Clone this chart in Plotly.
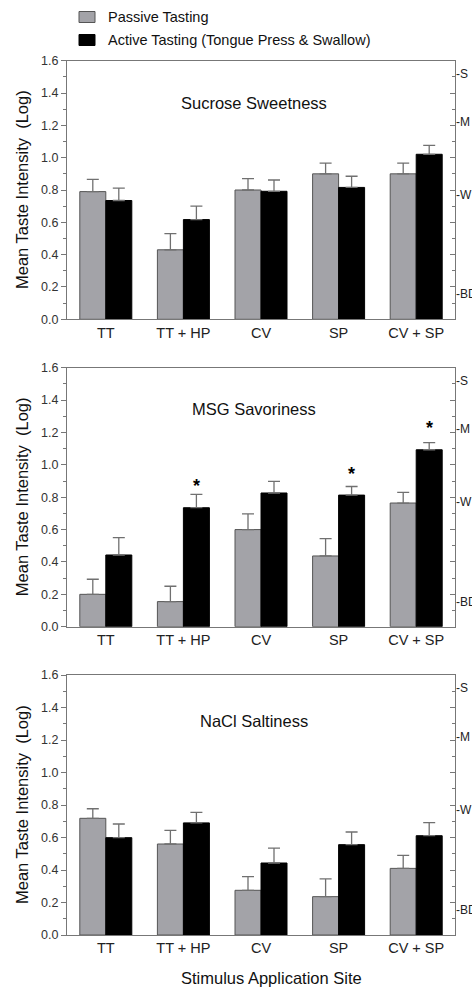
import plotly.graph_objects as go

categories = ["TT", "TT + HP", "CV", "SP", "CV + SP"]

sucrose_passive = [0.79, 0.43, 0.80, 0.90, 0.90]
sucrose_passive_err = [0.076, 0.10, 0.07, 0.066, 0.066]
sucrose_active = [0.735, 0.617, 0.792, 0.816, 1.021]
sucrose_active_err = [0.077, 0.083, 0.07, 0.069, 0.055]

msg_passive = [0.20, 0.155, 0.60, 0.437, 0.764]
msg_passive_err = [0.093, 0.095, 0.097, 0.107, 0.066]
msg_active = [0.443, 0.735, 0.826, 0.813, 1.093]
msg_active_err = [0.107, 0.083, 0.072, 0.053, 0.044]
msg_star_y = [None, 0.88, None, 0.957, 1.24]

nacl_passive = [0.718, 0.560, 0.275, 0.236, 0.410]
nacl_passive_err = [0.059, 0.084, 0.084, 0.109, 0.080]
nacl_active = [0.599, 0.690, 0.443, 0.556, 0.611]
nacl_active_err = [0.084, 0.065, 0.092, 0.078, 0.080]

series_names = ["Passive Tasting", "Active Tasting (Tongue Press & Swallow)"]
panel_titles = ["Sucrose Sweetness", "MSG Savoriness", "NaCl Saltiness"]
panel_title_y = [1.34, 1.343, 1.32]
scale_labels = ["-S", "-M", "-W", "-BD"]
scale_values = [1.52, 1.22, 0.77, 0.155]

FONT = "Liberation Sans, Arial, sans-serif"
GREY = "#a3a3a8"
AXC = "#777777"
W, H = 472, 990
L, R = 67, 17
PW = W - L - R

panels = [
    (sucrose_passive, sucrose_passive_err, sucrose_active, sucrose_active_err, None),
    (msg_passive, msg_passive_err, msg_active, msg_active_err, msg_star_y),
    (nacl_passive, nacl_passive_err, nacl_active, nacl_active_err, None),
]
pix = [(60.7, 319.3), (367.7, 626.7), (675.0, 935.0)]

fig = go.Figure()
annotations = []
shapes = []
for i, (pp, pe, ap, ae, stars) in enumerate(panels):
    n = i + 1
    xa = "x" if n == 1 else f"x{n}"
    ya = "y" if n == 1 else f"y{n}"
    yr = f"y{n + 3}"
    fig.add_trace(go.Bar(
        x=categories, y=pp, name=series_names[0], xaxis=xa, yaxis=ya,
        marker=dict(color=GREY, line=dict(color="#555555", width=1)),
        error_y=dict(type="data", array=pe, arrayminus=[0] * 5, symmetric=False,
                     color="#707070", thickness=1.3, width=6),
        showlegend=False))
    fig.add_trace(go.Bar(
        x=categories, y=ap, name=series_names[1], xaxis=xa, yaxis=ya,
        marker=dict(color="#000000", line=dict(color="#000000", width=1)),
        error_y=dict(type="data", array=ae, arrayminus=[0] * 5, symmetric=False,
                     color="#707070", thickness=1.3, width=6),
        showlegend=False))
    fig.add_trace(go.Scatter(x=categories, y=[None] * 5, xaxis=xa, yaxis=yr,
                             showlegend=False, hoverinfo="skip"))
    top, bot = pix[i]
    dom = [1 - bot / H, 1 - top / H]
    xkey = "xaxis" if n == 1 else f"xaxis{n}"
    ykey = "yaxis" if n == 1 else f"yaxis{n}"
    fig.layout[xkey] = dict(
        domain=[0, 1], anchor=ya, showline=True, linecolor=AXC, linewidth=1,
        mirror=True, ticks="", showgrid=False, automargin=False, tickangle=0,
        tickfont=dict(family=FONT, size=14.5, color="#222222"))
    fig.layout[ykey] = dict(
        domain=dom, anchor=xa, range=[0, 1.6], dtick=0.2, tickformat=".1f",
        showline=True, linecolor=AXC, linewidth=1, ticks="outside", ticklen=5,
        tickcolor=AXC, showgrid=False, zeroline=False, automargin=False,
        minor=dict(ticks="outside", dtick=0.1, ticklen=3, tickcolor=AXC, showgrid=False),
        tickfont=dict(family=FONT, size=12.5, color="#333333"))
    fig.layout[f"yaxis{n + 3}"] = dict(
        overlaying=ya, side="right", anchor=xa, range=[0, 1.6], dtick=0.2,
        showticklabels=False, showline=True, linecolor=AXC, linewidth=1,
        ticks="inside", ticklen=5, tickcolor=AXC, showgrid=False, zeroline=False,
        automargin=False,
        minor=dict(ticks="inside", dtick=0.1, ticklen=3, tickcolor=AXC, showgrid=False))
    xref = "x domain" if n == 1 else f"x{n} domain"
    yref = ya
    annotations.append(dict(
        text=panel_titles[i], xref=xref, yref=yref, x=0.482, y=panel_title_y[i],
        showarrow=False, xanchor="center", yanchor="middle",
        font=dict(family=FONT, size=16.5, color="#111111")))
    for lab, val in zip(scale_labels, scale_values):
        annotations.append(dict(
            text=lab, xref=xref, yref=yref, x=1, y=val, xshift=-1,
            showarrow=False, xanchor="left", yanchor="middle",
            font=dict(family=FONT, size=12, color="#222222")))
    annotations.append(dict(
        text="Mean Taste Intensity  (Log)", xref="paper", yref="paper",
        x=(22 - L) / PW, y=(dom[0] + dom[1]) / 2, textangle=-90,
        showarrow=False, xanchor="center", yanchor="middle",
        font=dict(family=FONT, size=16.5, color="#111111")))
    if stars:
        for c, sy in zip(categories, stars):
            if sy is not None:
                annotations.append(dict(
                    text="<b>*</b>", xref=xa, yref=yref, x=c, y=sy, xshift=13,
                    showarrow=False, xanchor="center", yanchor="middle", yshift=-2,
                    font=dict(family=FONT, size=18, color="#000000")))

annotations.append(dict(
    text="Stimulus Application Site", xref="paper", yref="paper",
    x=(271.7 - L) / PW, y=1 - 978 / H, showarrow=False,
    xanchor="center", yanchor="middle",
    font=dict(family=FONT, size=16.5, color="#111111")))

# manual legend
legend_rows = [(17, GREY, "#555555"), (40, "#000000", "#000000")]
for (cy, fc, lc), name in zip(legend_rows, series_names):
    shapes.append(dict(type="rect", xref="paper", yref="paper",
                       x0=(79 - L) / PW, x1=(95 - L) / PW,
                       y0=1 - (cy + 5.5) / H, y1=1 - (cy - 5.5) / H,
                       fillcolor=fc, line=dict(color=lc, width=1)))
    annotations.append(dict(
        text=name, xref="paper", yref="paper", x=(106 - L) / PW, y=1 - cy / H,
        showarrow=False, xanchor="left", yanchor="middle",
        font=dict(family=FONT, size=14.5, color="#111111")))

fig.update_layout(
    width=W, height=H, margin=dict(l=L, r=R, t=0, b=0),
    paper_bgcolor="white", plot_bgcolor="white",
    barmode="group", bargap=0.33, bargroupgap=0,
    font=dict(family=FONT, color="#111111"),
    annotations=annotations, shapes=shapes, showlegend=False,
)

fig.write_html("out.html", config={"displayModeBar": False},
               post_script="document.body.style.margin='0px';document.body.style.overflow='hidden';")
